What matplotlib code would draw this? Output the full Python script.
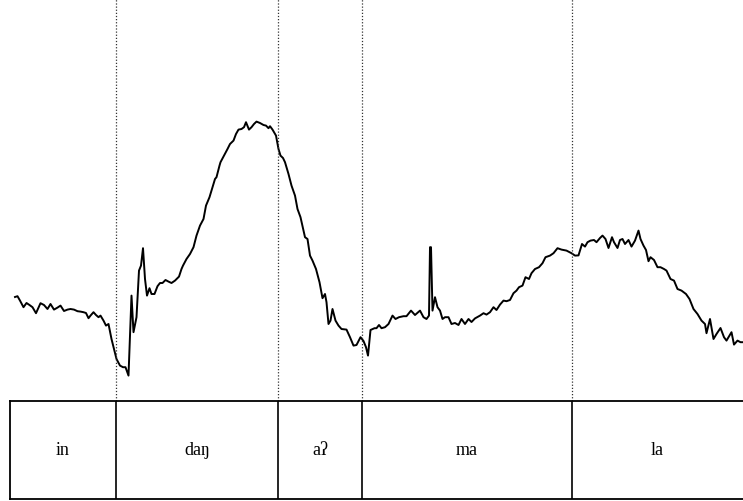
import numpy as np
from matplotlib import pyplot as plt

plt.rcParams.update({
    "font.family": ["Liberation Serif", "DejaVu Serif"],
    "font.size": 13,
})

# pitch track: time (s) and f0 (Hz)
time_s = [
    0.010, 0.015, 0.020, 0.027, 0.033, 0.039, 0.045, 0.052, 0.061, 0.068,
    0.075, 0.081, 0.088, 0.095, 0.101, 0.108, 0.115, 0.121, 0.128, 0.135,
    0.141, 0.147, 0.152, 0.157, 0.161, 0.167, 0.172, 0.177, 0.181, 0.187,
    0.192, 0.197, 0.203, 0.208, 0.213, 0.220, 0.226, 0.231, 0.237, 0.243,
    0.247, 0.253, 0.258, 0.262, 0.266, 0.270, 0.274, 0.279, 0.283, 0.289,
    0.295, 0.300, 0.305, 0.311, 0.317, 0.323, 0.330, 0.338, 0.343, 0.346,
    0.353, 0.360, 0.367, 0.373, 0.380, 0.387, 0.392, 0.399, 0.405, 0.410,
    0.413, 0.419, 0.421, 0.428, 0.435, 0.440, 0.447, 0.452, 0.457, 0.463,
    0.468, 0.472, 0.478, 0.483, 0.488, 0.493, 0.500, 0.507, 0.512, 0.517,
    0.520, 0.525, 0.532, 0.537, 0.541, 0.546, 0.550, 0.557, 0.563, 0.570,
    0.575, 0.581, 0.590, 0.595, 0.600, 0.605, 0.612, 0.619, 0.625, 0.630,
    0.633, 0.637, 0.641, 0.645, 0.651, 0.657, 0.663, 0.673, 0.680, 0.687,
    0.693, 0.701, 0.707, 0.712, 0.716, 0.721, 0.729, 0.733, 0.738, 0.743,
    0.750, 0.757, 0.765, 0.771, 0.778, 0.787, 0.793, 0.802, 0.810, 0.820,
    0.827, 0.833, 0.838, 0.840, 0.842, 0.845, 0.850, 0.855, 0.860, 0.865,
    0.870, 0.877, 0.883, 0.890, 0.897, 0.903, 0.910, 0.917, 0.923, 0.930,
    0.940, 0.947, 0.953, 0.960, 0.967, 0.973, 0.980, 0.987, 0.993, 1.000,
    1.007, 1.013, 1.018, 1.025, 1.031, 1.038, 1.043, 1.050, 1.058, 1.065,
    1.071, 1.080, 1.087, 1.095, 1.103, 1.113, 1.123, 1.130, 1.137, 1.144,
    1.150, 1.155, 1.161, 1.168, 1.173, 1.180, 1.185, 1.191, 1.197, 1.204,
    1.208, 1.215, 1.220, 1.225, 1.230, 1.237, 1.243, 1.250, 1.257, 1.261,
    1.267, 1.272, 1.277, 1.281, 1.288, 1.295, 1.301, 1.308, 1.313, 1.321,
    1.328, 1.335, 1.343, 1.352, 1.359, 1.367, 1.375, 1.383, 1.390, 1.393,
    1.400, 1.407, 1.413, 1.421, 1.428, 1.433, 1.439, 1.443, 1.448, 1.455,
    1.461, 1.466,
]
f0_hz = [
    102.0, 102.4, 100.2, 96.9, 99.0, 98.0, 96.9, 93.9, 98.9, 98.0,
    96.0, 98.5, 95.7, 96.7, 97.7, 95.0, 95.7, 96.0, 95.7, 94.9,
    94.7, 94.4, 94.0, 91.4, 92.7, 94.4, 93.0, 91.9, 92.7, 90.2,
    87.7, 88.5, 81.0, 76.0, 71.0, 67.7, 66.9, 66.9, 62.7, 102.7,
    84.4, 91.9, 115.2, 117.7, 126.4, 111.0, 102.7, 106.4, 103.5, 103.5,
    107.4, 109.0, 109.0, 110.5, 109.7, 109.0, 110.2, 112.2, 116.0, 117.7,
    121.0, 123.5, 126.9, 132.7, 137.7, 141.0, 147.7, 151.9, 156.9, 161.0,
    161.9, 167.7, 169.4, 172.7, 176.0, 178.5, 180.2, 183.5, 185.7, 186.0,
    186.9, 189.4, 185.7, 186.9, 188.5, 189.7, 189.0, 188.0, 187.7, 186.4,
    187.4, 185.7, 182.7, 176.0, 172.7, 171.5, 169.4, 163.5, 157.7, 152.7,
    146.0, 141.9, 131.9, 131.0, 122.7, 120.2, 116.0, 109.4, 101.4, 103.5,
    99.4, 88.5, 90.2, 96.0, 90.2, 87.7, 86.0, 85.7, 81.9, 77.7,
    78.0, 81.9, 80.0, 76.9, 72.7, 85.5, 86.4, 86.4, 88.0, 86.4,
    86.9, 88.5, 92.7, 91.0, 91.9, 92.4, 92.4, 95.2, 93.0, 95.2,
    91.9, 91.0, 92.7, 126.9, 126.9, 95.2, 101.9, 96.9, 95.2, 91.0,
    91.9, 91.9, 88.5, 89.0, 88.0, 91.0, 88.5, 91.0, 89.5, 91.3,
    92.7, 93.9, 93.2, 94.4, 96.9, 95.5, 98.2, 100.2, 99.9, 100.5,
    103.9, 105.2, 106.9, 107.7, 111.9, 111.0, 113.9, 116.0, 116.9, 118.9,
    121.9, 122.7, 123.9, 126.4, 125.7, 125.2, 123.9, 122.7, 122.8, 128.5,
    127.2, 129.4, 130.2, 130.5, 129.4, 131.5, 132.7, 131.0, 126.5, 131.9,
    129.4, 126.5, 130.5, 131.0, 128.5, 130.5, 127.2, 130.2, 135.2, 131.0,
    127.7, 125.5, 119.9, 121.9, 120.5, 116.9, 116.9, 116.0, 115.2, 111.0,
    110.2, 106.0, 105.2, 103.5, 101.0, 96.0, 93.5, 90.2, 88.5, 83.9,
    91.0, 81.0, 83.5, 86.5, 81.9, 80.2, 82.7, 84.4, 78.2, 80.2,
    79.4, 79.4,
]

# syllable tier
boundaries = [0.212, 0.536, 0.704, 1.124]
syllables = ["in", "daŋ", "aʔ", "ma", "la"]
t_start, t_end = 0.0, 1.466

fig = plt.figure(figsize=(7.43, 5.02), dpi=100)

ax = fig.add_axes([10 / 743, 100 / 502, 733 / 743, 402 / 502])
ax.plot(time_s, f0_hz, color="black", lw=1.4)
for b in boundaries:
    ax.axvline(b, color="0.2", lw=0.9, ls=(0, (1, 1.5)))
ax.set_xlim(t_start, t_end)
ax.set_ylim(50, 251)
ax.axis("off")

tier = fig.add_axes([10 / 743, 2 / 502, 733 / 743, 98 / 502])
tier.set_xlim(t_start, t_end)
tier.set_ylim(0, 1)
for b in boundaries:
    tier.axvline(b, color="black", lw=1.2)
edges = [t_start] + boundaries + [t_end]
for i, s in enumerate(syllables):
    tier.text((edges[i] + edges[i + 1]) / 2, 0.5, s, ha="center", va="center")
tier.set_xticks([])
tier.set_yticks([])
tier.spines["right"].set_visible(False)
for side in ["left", "top", "bottom"]:
    tier.spines[side].set_linewidth(1.3)

fig.savefig("out.png", dpi=100)
